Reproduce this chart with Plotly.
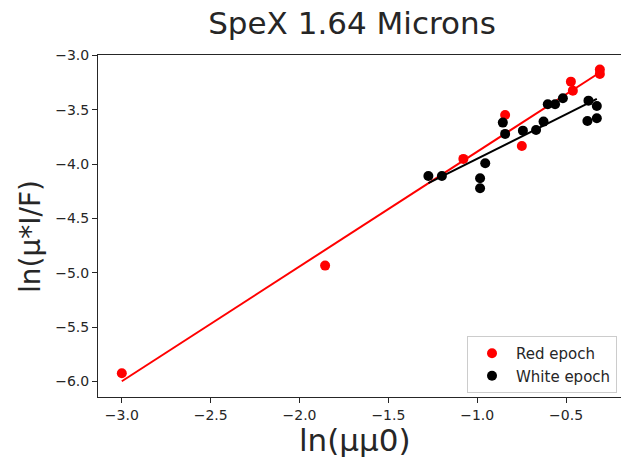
import numpy as np
import plotly.graph_objects as go

# Red epoch
red_x = [-3.00, -1.856, -1.078, -0.843, -0.749, -0.473, -0.462, -0.31, -0.31]
red_y = [-5.924, -4.934, -3.952, -3.548, -3.833, -3.241, -3.324, -3.13, -3.17]

# White epoch
white_x = [-1.275, -1.199, -0.955, -0.984, -0.984, -0.856, -0.843, -0.743, -0.669,
           -0.627, -0.603, -0.562, -0.518, -0.374, -0.327, -0.327, -0.380]
white_y = [-4.109, -4.109, -3.992, -4.130, -4.222, -3.618, -3.722, -3.692, -3.686,
           -3.609, -3.449, -3.449, -3.394, -3.416, -3.465, -3.578, -3.603]

x_ticks = [-3.0, -2.5, -2.0, -1.5, -1.0, -0.5]
y_ticks = [-3.0, -3.5, -4.0, -4.5, -5.0, -5.5, -6.0]

def fit_line(xs, ys):
    xs = np.asarray(xs); ys = np.asarray(ys)
    p = np.polyfit(xs, ys, 1)
    xx = np.array([xs.min(), xs.max()])
    return xx, np.polyval(p, xx)

rfx, rfy = fit_line(red_x, red_y)
wfx, wfy = fit_line(white_x, white_y)

FONT = "DejaVu Sans"
TXT = "#262626"

fig = go.Figure()
fig.add_trace(go.Scatter(x=red_x, y=red_y, mode="markers", name="Red epoch",
                         marker=dict(color="#ff0000", size=10, line=dict(width=0))))
fig.add_trace(go.Scatter(x=rfx, y=rfy, mode="lines", showlegend=False,
                         line=dict(color="#ff0000", width=2)))
fig.add_trace(go.Scatter(x=white_x, y=white_y, mode="markers", name="White epoch",
                         marker=dict(color="#000000", size=10, line=dict(width=0))))
fig.add_trace(go.Scatter(x=wfx, y=wfy, mode="lines", showlegend=False,
                         line=dict(color="#000000", width=2)))

def fmt(v):
    s = f"{abs(v):.1f}"
    return ("\u2212" + s) if v < 0 else s

PW, PH = 523, 342  # plot area size in px
fig.update_layout(
    width=621, height=462,
    margin=dict(l=98, r=0, t=55, b=65),
    paper_bgcolor="white", plot_bgcolor="white",
    font=dict(family=FONT, size=14, color=TXT),
    title=dict(text="SpeX 1.64 Microns", x=(352 - 98) / PW, xref="paper", xanchor="center",
               y=1 - 23 / 462, yref="container", yanchor="middle",
               font=dict(family=FONT, size=31, color=TXT)),
    xaxis=dict(range=[-3.134, -0.191], tickvals=x_ticks, ticktext=[fmt(v) for v in x_ticks],
               showgrid=False, zeroline=False, showline=True, mirror=True,
               linecolor=TXT, linewidth=1, ticks="outside", ticklen=5,
               tickcolor=TXT, tickfont=dict(size=14, color=TXT)),
    yaxis=dict(range=[-6.143, -2.996], tickvals=y_ticks, ticktext=[fmt(v) for v in y_ticks],
               showgrid=False, zeroline=False, showline=True, mirror=False,
               linecolor=TXT, linewidth=1, ticks="outside", ticklen=5,
               tickcolor=TXT, tickfont=dict(size=14, color=TXT)),
    legend=dict(x=(617 - 98) / PW, y=(397 - 393) / PH, xanchor="right", yanchor="bottom",
                bgcolor="white", bordercolor="#cccccc", borderwidth=1, itemwidth=38,
                font=dict(family=FONT, size=15, color=TXT)),
    showlegend=True,
    annotations=[
        dict(text="ln(\u03bc\u03bc0)", x=(355 - 98) / PW, y=(397 - 440) / PH,
             xref="paper", yref="paper", showarrow=False, xanchor="center", yanchor="middle",
             font=dict(family=FONT, size=31, color=TXT)),
        dict(text="ln(\u03bc*I/F)", x=(30 - 98) / PW, y=(397 - 237) / PH,
             xref="paper", yref="paper", showarrow=False, xanchor="center", yanchor="middle",
             textangle=-90, font=dict(family=FONT, size=28, color=TXT)),
    ],
)

fig.write_html("out.html", config={"displayModeBar": False},
               post_script="document.body.style.margin='0';")
